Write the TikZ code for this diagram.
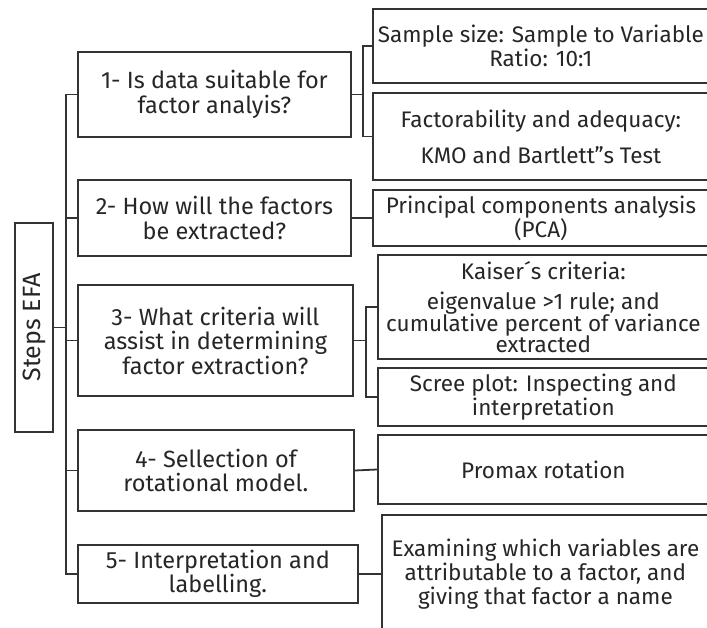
\documentclass[tikz,border=0pt]{standalone}
\usepackage{fontspec}
\setmainfont{Fira Sans}
\usetikzlibrary{positioning}
\begin{document}
\begin{tikzpicture}[x=1pt,y=-1pt]
\tikzstyle{mythick}=[line width=1.8pt,draw=black!80];
\tikzstyle{qn}=[draw,mythick,anchor=west,align=center,inner sep=1pt,text=black!85,font=\fontsize{23.5}{24.5}\selectfont]
\tikzstyle{ln}=[qn,minimum width=336pt,font=\fontsize{22.5}{24}\selectfont]
\tikzstyle{ed}=[mythick]
\useasboundingbox (0,0) rectangle (707,628);
\clip (0,0) rectangle (707,628);
\node [qn,anchor=center,minimum width=38pt,minimum height=209pt,font=\fontsize{25}{26}\selectfont] (root) at (34,327.5) {\rotatebox{90}{Steps EFA}};
\node [qn,minimum width=273pt,minimum height=85pt] (q1) at (77,94.5) {1- Is data suitable for\\factor analyis?};
\node [qn,minimum width=273pt,minimum height=76pt] (q2) at (77,218) {2- How will the factors\\be extracted?};
\node [qn,minimum width=275pt,minimum height=111pt] (q3) at (77,340.5) {3- What criteria will\\assist in determining\\factor extraction?};
\node [qn,minimum width=276pt,minimum height=81pt] (q4) at (77,470.5) {4- Sellection of\\rotational model.};
\node [qn,minimum width=280pt,minimum height=58pt] (q5) at (77,574) {5- Interpretation and\\labelling.};
\node [ln,minimum height=74pt] (l1a) at (372,46) {Sample size: Sample to Variable\\Ratio: 10:1};
\node [ln,minimum height=87pt] (l1b) at (372,136.5) {Factorability and adequacy:\\[12pt]KMO and Bartlett"s Test};
\node [ln,minimum height=56pt] (l2) at (372,218) {Principal components analysis\\(PCA)};
\node [ln,minimum width=331pt,minimum height=104pt] (l3a) at (377,307) {Kaiser´s criteria:\\[6pt]eigenvalue >1 rule; and\\[-2pt]cumulative percent of variance\\[-3pt]extracted};
\node [ln,minimum width=331pt,minimum height=58pt] (l3b) at (377,397) {Scree plot: Inspecting and\\interpretation};
\node [ln,minimum width=331pt,minimum height=69pt] (l4) at (377,469.5) {Promax rotation};
\node [ln,minimum width=327pt,minimum height=118pt] (l5) at (381,574) {Examining which variables are\\attributable to a factor, and\\giving that factor a name};
\draw [ed] (root.east) -- ++(12,0) |- (q1.west);
\draw [ed] (root.east) -- ++(12,0) |- (q2.west);
\draw [ed] (root.east) -- ++(12,0) |- (q3.west);
\draw [ed] (root.east) -- ++(12,0) |- (q4.west);
\draw [ed] (root.east) -- ++(12,0) |- (q5.west);
\draw [ed] (q1.east) -- ++(11,0) |- (l1a.west);
\draw [ed] (q1.east) -- ++(11,0) |- (l1b.west);
\draw [ed] (q2.east) -- (l2.west);
\draw [ed] (q3.east) -- ++(12,0) |- (l3a.west);
\draw [ed] (q3.east) -- ++(12,0) |- (l3b.west);
\draw [ed] (q4.east) -- (l4.west);
\draw [ed] (q5.east) -- (l5.west);
\end{tikzpicture}
\end{document}
